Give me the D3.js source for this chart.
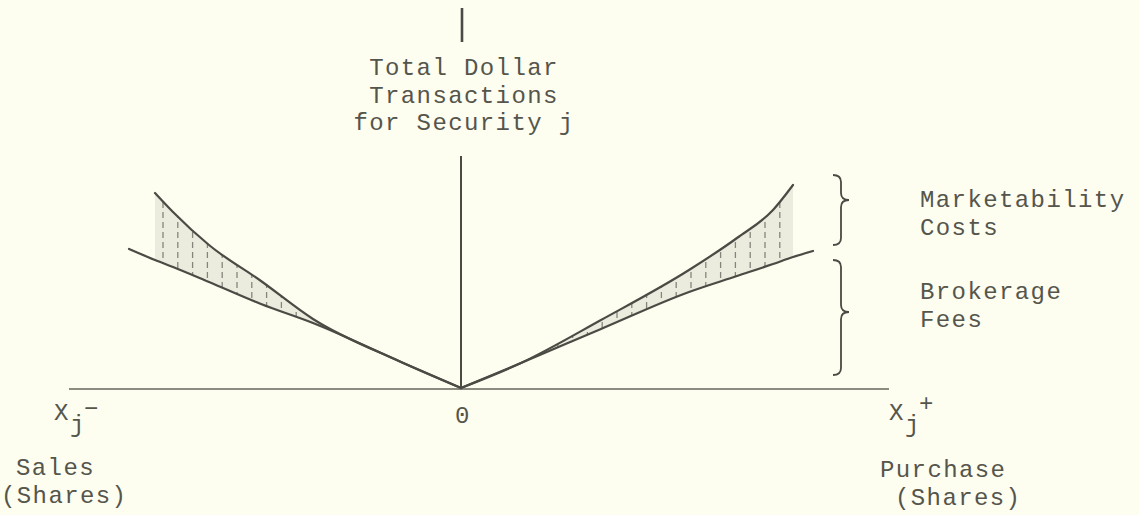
<!DOCTYPE html>
<html>
<head>
<meta charset="utf-8">
<script src="https://cdn.jsdelivr.net/npm/d3@7"></script>
<style>
  html, body { margin: 0; padding: 0; background: #fdfdf0; }
  svg { display: block; }
  text { font-family: "Liberation Mono", "DejaVu Sans Mono", monospace; font-size: 24px; letter-spacing: 1.4px; fill: #55554c; }
</style>
</head>
<body>
<svg id="vis" width="1139" height="515"></svg>
<script>
// shares traded (x) and dollar amounts (y)
var salesShares     = [-8.3, -7.65, -7.2, -6.3, -5.0, -3.7, -1.5, 0];
var salesFees       = [6.95, 6.4, 6.05, 5.3, 4.2, 3.25, 1.3, 0];
var salesTotal      = [null, 9.75, 8.8, 7.15, 5.35, 3.45, 1.3, 0];

var purchaseShares  = [0, 1.5, 3.5, 5.7, 6.9, 7.8, 8.3, 8.8];
var purchaseFees    = [0, 1.25, 2.95, 4.8, 5.6, 6.2, 6.55, 6.85];
var purchaseTotal   = [0, 1.25, 3.4, 5.9, 7.5, 8.9, 10.15, null];

var xAxisExtent = [-9.8, 10.7];
var yAxisExtent = [0, 11.6];
var yArrowTop   = [17.3, 19];

// brace spans on the right: [top, bottom, tip]
var braceSpans  = [[10.65, 7.15, 9.4], [6.4, 0.65, 3.8]];
var braceLabels = [["Marketability", "Costs"], ["Brokerage", "Fees"]];
var titleLines  = ["Total Dollar", "Transactions", "for Security j"];

var svg = d3.select("#vis");
var ink = "#4b4b45";

var x = d3.scaleLinear().domain([-10, 10]).range([61, 861]);
var y = d3.scaleLinear().domain([0, 10]).range([388, 188]);

function rows(xs, fees, total) {
    return xs.map(function(d, i) { return {x: d, fee: fees[i], total: total[i]}; });
}
var sides = [rows(salesShares, salesFees, salesTotal), rows(purchaseShares, purchaseFees, purchaseTotal)];

var area = d3.area()
    .defined(function(d) { return d.total != null; })
    .x(function(d) { return x(d.x); })
    .y0(function(d) { return y(d.fee); })
    .y1(function(d) { return y(d.total); })
    .curve(d3.curveMonotoneX);

var feeLine = d3.line()
    .x(function(d) { return x(d.x); })
    .y(function(d) { return y(d.fee); })
    .curve(d3.curveMonotoneX);

var totalLine = d3.line()
    .defined(function(d) { return d.total != null; })
    .x(function(d) { return x(d.x); })
    .y(function(d) { return y(d.total); })
    .curve(d3.curveMonotoneX);

var defs = svg.append("defs");
sides.forEach(function(data, i) {
    defs.append("clipPath").attr("id", "shade" + i)
        .append("path").attr("d", area(data));
});

// faint smudge + vertical dashed hatching for marketability costs
var hatch = svg.append("g");
sides.forEach(function(data, i) {
    var g = hatch.append("g").attr("clip-path", "url(#shade" + i + ")");
    g.append("path").attr("d", area(data))
        .attr("fill", "#d9d9cc").attr("opacity", 0.5);
    var ext = d3.extent(data.filter(function(d) { return d.total != null; }), function(d) { return d.x; });
    g.selectAll("line").data(d3.range(ext[0] + 0.2, ext[1], 0.37))
        .enter().append("line")
        .attr("x1", function(d) { return x(d); })
        .attr("x2", function(d) { return x(d); })
        .attr("y1", y(0)).attr("y2", y(11))
        .attr("stroke", "#85857b")
        .attr("stroke-width", 1.3)
        .attr("stroke-dasharray", "6,4");
});

// axes
var axes = svg.append("g").attr("stroke", ink).attr("fill", "none");
axes.append("line")
    .attr("x1", x(xAxisExtent[0])).attr("x2", x(xAxisExtent[1]))
    .attr("y1", y(0) + 1).attr("y2", y(0) + 1)
    .attr("stroke", "#66665e").attr("stroke-width", 1.7);
axes.append("line")
    .attr("x1", x(0)).attr("x2", x(0))
    .attr("y1", y(yAxisExtent[0])).attr("y2", y(yAxisExtent[1]))
    .attr("stroke-width", 2);
axes.append("line")
    .attr("x1", x(0) + 1).attr("x2", x(0) + 1)
    .attr("y1", y(yArrowTop[0])).attr("y2", y(yArrowTop[1]))
    .attr("stroke-width", 2.6);

// cost curves
var curves = svg.append("g").attr("fill", "none").attr("stroke", ink).attr("stroke-linecap", "round");
sides.forEach(function(data) {
    curves.append("path").attr("d", feeLine(data)).attr("stroke-width", 2.2);
    curves.append("path").attr("d", totalLine(data)).attr("stroke-width", 2.2);
});

// braces
function bracePath(x0, top, bottom, tip, w) {
    var r = 7, m = x0 + w / 2;
    return "M" + x0 + "," + top +
        " Q" + m + "," + top + " " + m + "," + (top + r) +
        " L" + m + "," + (tip - r) +
        " Q" + m + "," + tip + " " + (x0 + w) + "," + tip +
        " Q" + m + "," + tip + " " + m + "," + (tip + r) +
        " L" + m + "," + (bottom - r) +
        " Q" + m + "," + bottom + " " + x0 + "," + bottom;
}
var braceX = x(9.3);
svg.append("g").selectAll("path").data(braceSpans).enter().append("path")
    .attr("d", function(d) { return bracePath(braceX, y(d[0]), y(d[1]), y(d[2]), 16); })
    .attr("fill", "none").attr("stroke", ink).attr("stroke-width", 1.8);

var labelY = [207, 299];
braceLabels.forEach(function(lines, i) {
    lines.forEach(function(t, k) {
        svg.append("text").attr("x", 920).attr("y", labelY[i] + k * 27.5).text(t);
    });
});

// titles and axis labels
titleLines.forEach(function(t, k) {
    svg.append("text").attr("x", x(0) + 3).attr("y", 75 + k * 27.5)
        .attr("text-anchor", "middle").text(t);
});
svg.append("text").attr("x", x(0) + 2).attr("y", 423).attr("text-anchor", "middle").text("0");

function xLabel(x0, sign, signDy) {
    svg.append("text").attr("x", x0).attr("y", 420).text("X");
    svg.append("text").attr("x", x0 + 16).attr("y", 432).text("j");
    svg.append("text").attr("x", x0 + 30).attr("y", 420 + signDy).text(sign);
}
xLabel(54, "\u2212", -4);
xLabel(889, "+", -9);

svg.append("text").attr("x", 16).attr("y", 475).text("Sales");
svg.append("text").attr("x", 1).attr("y", 503).text("(Shares)");
svg.append("text").attr("x", 880).attr("y", 477).text("Purchase");
svg.append("text").attr("x", 895).attr("y", 505).text("(Shares)");
</script>
</body>
</html>
